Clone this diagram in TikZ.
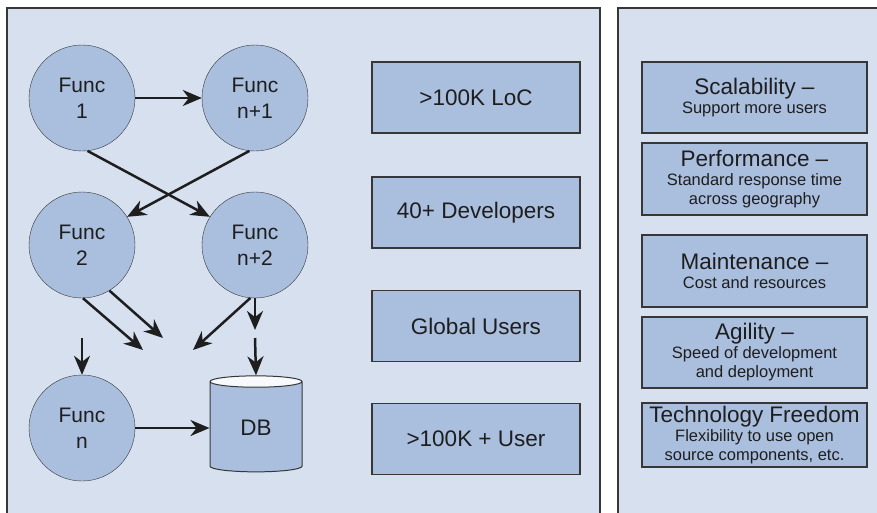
\documentclass[tikz,border=0pt]{standalone}
\usepackage{fontspec}
\setmainfont{Liberation Sans}
\usetikzlibrary{shapes.geometric,arrows.meta}
\definecolor{panelbg}{RGB}{214,224,238}
\definecolor{boxfill}{RGB}{170,190,222}
\definecolor{edgegray}{RGB}{55,55,55}
\definecolor{inkgray}{RGB}{30,30,30}
\newcommand{\headfont}{\fontsize{22.5}{25}\selectfont}
\newcommand{\notefont}{\fontsize{16.5}{19}\selectfont}

\tikzset{
  panel/.style={draw=edgegray, line width=1.5pt, fill=panelbg},
  func/.style={draw=edgegray, circle, fill=boxfill, minimum size=106pt, inner sep=0pt,
    align=center, font=\fontsize{21}{26}\selectfont, text=inkgray},
  store/.style={draw=edgegray, cylinder, shape border rotate=90, aspect=0.3,
    minimum width=92pt, minimum height=96pt, cylinder uses custom fill,
    cylinder body fill=boxfill, cylinder end fill=white!80!panelbg,
    font=\headfont, text=inkgray, line width=1pt},
  fact/.style={draw=edgegray, fill=boxfill, line width=1.5pt, minimum width=208pt,
    minimum height=71pt, font=\headfont, text=inkgray},
  goal/.style={draw=edgegray, fill=boxfill, line width=1.5pt, minimum width=225pt,
    align=center, font=\notefont, text=inkgray, inner sep=0pt},
  arr/.style={-{Stealth[length=19pt,width=16pt,inset=6pt]}, line width=2.5pt, draw=inkgray},
}

\begin{document}
\begin{tikzpicture}[x=1pt,y=-1pt]
\useasboundingbox (0,0) rectangle (877,512);
\draw[panel] (7,8) rectangle (600,530);
\draw[panel] (618,8) rectangle (895,530);

% the monolith
\node[func] (f1) at (82,98) {Func\\1};
\node[func] (fn1) at (255,98) {Func\\n+1};
\node[func] (f2) at (82,245) {Func\\2};
\node[func] (fn2) at (255,245) {Func\\n+2};
\node[func] (fn) at (82,428) {Func\\n};
\node[store] (db) at (256,428) {DB};

\coordinate (e1) at (143,350);
\coordinate (e2) at (163,338);
\coordinate (e3) at (193,350);
\coordinate (e4) at (255,330);
\coordinate (s1) at (255,338);
\coordinate (s2) at (82,338);

\draw[arr] (f1) -- (fn1);
\draw[arr] (f1.-84) -- (fn2.148);
\draw[arr] (fn1.-96) -- (f2.32);
\draw[arr] (f2.-89) -- (e1);
\draw[arr] (f2.-59) -- (e2);
\draw[arr] (fn2.-95) -- (e3);
\draw[arr] (fn2.south) -- (e4);
\draw[arr] (s1) -- (db.north);
\draw[arr] (s2) -- (fn.north);
\draw[arr] (fn) -- (db);

% size of it
\node[fact] (loc) at (476,97.5) {>100K LoC};
\node[fact] (devs) at (476,212.5) {40+ Developers};
\node[fact] (users) at (476,326) {Global Users};
\node[fact] (load) at (476,439) {>100K + User};

% what it needs
\node[goal, minimum height=71pt] (scale) at (754.5,97.5)
  {{\headfont Scalability --}\\Support more users};
\node[goal, minimum height=72pt] (perf) at (754.5,179)
  {{\headfont Performance --}\\Standard response time\\across geography};
\node[goal, minimum height=72pt] (maint) at (754.5,271)
  {{\headfont Maintenance --}\\Cost and resources};
\node[goal, minimum height=71pt] (agile) at (754.5,352.5)
  {{\headfont Agility --}\\Speed of development\\and deployment};
\node[goal, minimum height=64pt] (tech) at (754.5,435)
  {{\headfont Technology Freedom}\\Flexibility to use open\\source components, etc.};
\end{tikzpicture}
\end{document}
